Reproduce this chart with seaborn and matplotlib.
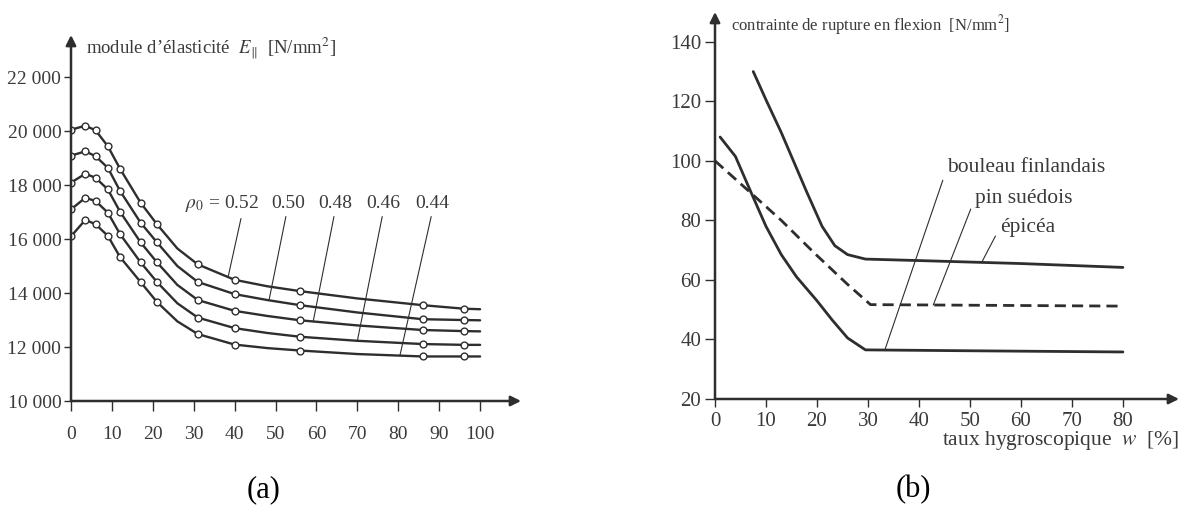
import numpy as np
import pandas as pd
import matplotlib
matplotlib.use('Agg')
import matplotlib.pyplot as plt
import seaborn as sns
from matplotlib.ticker import FuncFormatter

# ---- data ----
# (a) modulus of elasticity vs moisture, one curve per density rho0
w_a = [0, 3.5, 6, 9, 12, 17, 21, 26, 31, 40, 48, 56, 70, 86, 96, 100]
marked_a = [1, 1, 1, 1, 1, 1, 1, 0, 1, 1, 0, 1, 0, 1, 1, 0]
rho_labels = ['0.52', '0.50', '0.48', '0.46', '0.44']
E_052 = [20050, 20200, 20030, 19440, 18600, 17350, 16550, 15650, 15060, 14490, 14250, 14070, 13800, 13550, 13420, 13400]
E_050 = [19090, 19250, 19070, 18640, 17780, 16610, 15880, 15000, 14410, 13960, 13740, 13550, 13280, 13030, 13000, 12990]
E_048 = [18090, 18420, 18270, 17840, 17010, 15880, 15140, 14300, 13740, 13340, 13150, 12990, 12800, 12630, 12590, 12580]
E_046 = [17100, 17530, 17410, 16980, 16180, 15140, 14410, 13620, 13090, 12700, 12520, 12380, 12230, 12110, 12080, 12080]
E_044 = [16100, 16710, 16550, 16120, 15330, 14410, 13670, 12950, 12480, 12090, 11960, 11870, 11740, 11650, 11650, 11650]
leader_w_a = [38.4, 48.4, 59.2, 70, 80.4]
xticks_a = list(range(0, 101, 10))
yticks_a = list(range(10000, 22001, 2000))

# (b) bending strength vs moisture
w_epicea = [7.5, 10, 13, 16, 18, 21, 23.5, 26, 29.5, 40, 60, 80]
s_epicea = [130, 120.5, 109.5, 97.5, 89.5, 78, 71.5, 68.5, 67, 66.5, 65.5, 64.2]
w_pin = [0, 7.5, 13, 19.5, 26, 30.5, 80]
s_pin = [100, 88.5, 80, 69, 58.5, 51.7, 51.2]
w_bouleau = [1, 4, 7.3, 10, 13, 16, 20, 23, 26, 29.5, 50, 80]
s_bouleau = [108, 101.5, 88.5, 78, 68.5, 61, 53, 46.5, 40.5, 36.5, 36.2, 35.8]
species = ['bouleau finlandais', 'pin suédois', 'épicéa']
leader_w_b = [33.3, 42.8, 52.3]
xticks_b = list(range(0, 81, 10))
yticks_b = list(range(20, 141, 20))

INK = '#2e2e2e'
TXT = '#3a3a3a'

sns.set_style('ticks')
plt.rcParams['font.family'] = ['Liberation Serif', 'DejaVu Serif']
plt.rcParams['mathtext.fontset'] = 'stix'

W, H = 1184, 520
fig = plt.figure(figsize=(W / 100, H / 100), dpi=100)
fig.patch.set_facecolor('white')


def px_box(x0, y0, x1, y1):
    return [x0 / W, 1 - y1 / H, (x1 - x0) / W, (y1 - y0) / H]


def arrow_axes(ax):
    for s in ax.spines.values():
        s.set_visible(False)
    kw = dict(arrowstyle='-|>', color=INK, lw=1.8, mutation_scale=15, shrinkA=0, shrinkB=0)
    ax.annotate('', xy=(1, 0), xytext=(0, 0), xycoords='axes fraction', arrowprops=kw)
    ax.annotate('', xy=(0, 1), xytext=(0, 0), xycoords='axes fraction', arrowprops=kw)


# ---------------- panel (a) ----------------
ax1 = fig.add_axes(px_box(71, 35, 521, 401))
curves_a = [E_052, E_050, E_048, E_046, E_044]
df_a = pd.concat([pd.DataFrame({'w': w_a, 'E': e, 'rho': r, 'marked': marked_a})
                  for e, r in zip(curves_a, rho_labels)], ignore_index=True)
sns.lineplot(data=df_a, x='w', y='E', hue='rho', palette=[INK] * 5, estimator=None,
             sort=False, lw=1.7, legend=False, ax=ax1)
sns.scatterplot(data=df_a[df_a['marked'] == 1], x='w', y='E', color='white',
                edgecolor=INK, linewidth=1.0, s=24, zorder=3, legend=False, ax=ax1)
ax1.set_xlim(0, 110)
ax1.set_ylim(10000, 23560)
ax1.set_xticks(xticks_a)
ax1.set_yticks(yticks_a)
ax1.yaxis.set_major_formatter(FuncFormatter(lambda v, p: f'{int(v):,}'.replace(',', ' ')))
ax1.tick_params(axis='both', direction='out', color=INK, width=1, labelcolor=TXT, labelsize=14)
ax1.tick_params(axis='y', length=5, pad=2)
ax1.tick_params(axis='x', length=7, pad=11)
ax1.set_xlabel('')
ax1.set_ylabel('')
arrow_axes(ax1)

# density labels with leader lines
label_x = [36.9, 53.0, 64.5, 76.3, 88.3]
relx = [0.77, 0.47, 0.5, 0.5, 0.5]
for i, (lab, e) in enumerate(zip(rho_labels, curves_a)):
    txt = r'$\rho_0$ = ' + lab if i == 0 else lab
    xe = leader_w_a[i]
    ye = np.interp(xe, w_a, e)
    ax1.annotate(txt, xy=(xe, ye), xytext=(label_x[i], 17320), ha='center', va='center',
                 fontsize=14, color=TXT,
                 arrowprops=dict(arrowstyle='-', color=INK, lw=0.8, relpos=(relx[i], 0),
                                 shrinkA=1, shrinkB=0))

fig.text(86 / W, 1 - 48 / H, 'module d’élasticité  $E_{\\Vert}$  [N/mm$^2$]',
         ha='left', va='center', fontsize=13.5, color=TXT)
fig.text(264 / W, 1 - 490 / H, '(a)', ha='center', va='center', fontsize=22, color='black')

# ---------------- panel (b) ----------------
ax2 = fig.add_axes(px_box(715, 12, 1179, 399))
df_b = pd.concat([
    pd.DataFrame({'w': w_bouleau, 's': s_bouleau, 'sp': species[0]}),
    pd.DataFrame({'w': w_pin, 's': s_pin, 'sp': species[1]}),
    pd.DataFrame({'w': w_epicea, 's': s_epicea, 'sp': species[2]}),
], ignore_index=True)
sns.lineplot(data=df_b, x='w', y='s', hue='sp', style='sp', palette=[INK] * 3,
             dashes={species[0]: '', species[1]: (4, 2.2), species[2]: ''},
             estimator=None, sort=False, lw=2.0, legend=False, ax=ax2)
ax2.set_xlim(0, 91)
ax2.set_ylim(20, 150)
ax2.set_xticks(xticks_b)
ax2.set_yticks(yticks_b)
ax2.tick_params(axis='both', direction='out', color=INK, width=1, labelcolor=TXT, labelsize=15)
ax2.tick_params(axis='y', length=7, pad=3)
ax2.tick_params(axis='x', length=6, pad=3)
ax2.set_xlabel('')
ax2.set_ylabel('')
arrow_axes(ax2)

series_b = [(w_bouleau, s_bouleau), (w_pin, s_pin), (w_epicea, s_epicea)]
text_pos_b = [(45.5, 97.6), (51.0, 87.5), (55.9, 77.7)]
for name, (ws, ss), xe, tp in zip(species, series_b, leader_w_b, text_pos_b):
    ye = np.interp(xe, ws, ss)
    ax2.annotate(name, xy=(xe, ye), xytext=tp, ha='left', va='center', fontsize=15.5, color=TXT,
                 arrowprops=dict(arrowstyle='-', color=INK, lw=0.8, relpos=(0, 0.5),
                                 shrinkA=2, shrinkB=0))

fig.text(731 / W, 1 - 25 / H, 'contrainte de rupture en flexion  [N/mm$^2$]',
         ha='left', va='center', fontsize=12, color=TXT)
fig.text(1179 / W, 1 - 441 / H, 'taux hygroscopique  $w$  [%]',
         ha='right', va='center', fontsize=15.5, color=TXT)
fig.text(913 / W, 1 - 490 / H, '(b)', ha='center', va='center', fontsize=22, color='black')

fig.savefig('out.png', dpi=100, facecolor='white')
